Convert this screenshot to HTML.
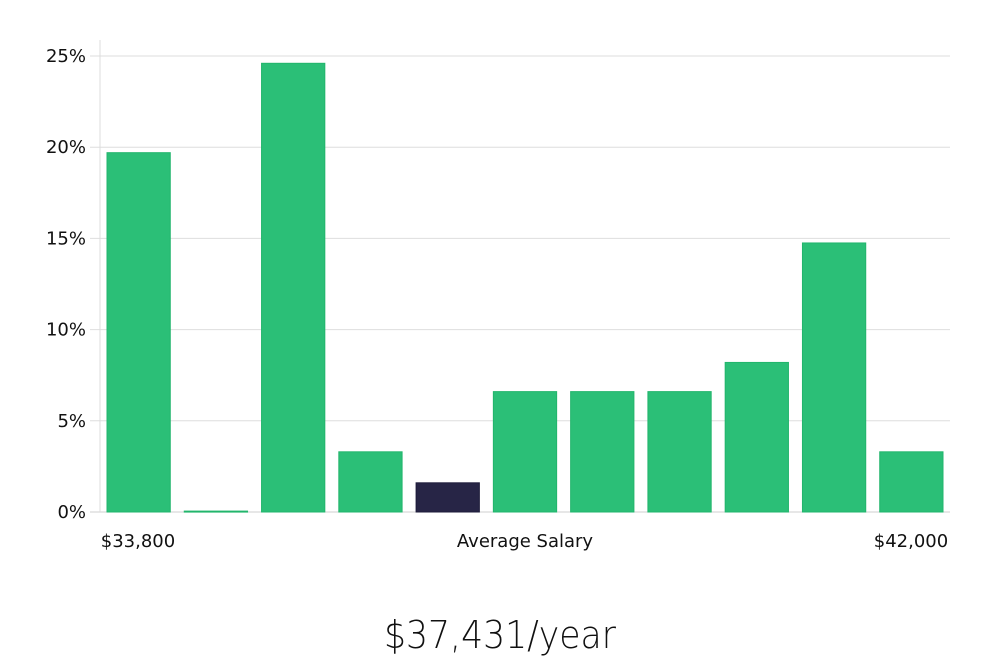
<!DOCTYPE html>
<html><head><meta charset="utf-8">
<style>
html,body{margin:0;padding:0;background:#fff;width:1000px;height:660px;overflow:hidden}
svg text{font-family:"DejaVu Sans","Liberation Sans",sans-serif;fill:#111}
</style></head>
<body>
<svg id="chart" width="1000" height="660" xmlns="http://www.w3.org/2000/svg">
<g id="grid"></g>
<g id="yticks"></g>
<g id="bars"></g>
<text x="138" y="547" font-size="18" text-anchor="middle">$33,800</text>
<text x="525" y="547" font-size="18" text-anchor="middle">Average Salary</text>
<text x="911" y="547" font-size="18" text-anchor="middle">$42,000</text>
<text x="500" y="648" font-size="38" text-anchor="middle" style="font-family:'DejaVu Sans','Liberation Sans',sans-serif;font-weight:300;fill:#111" textLength="232" lengthAdjust="spacingAndGlyphs">$37,431/year</text>
</svg>
<script>
const values = [19.7, 0.05, 24.6, 3.3, 1.6, 6.6, 6.6, 6.6, 8.2, 14.75, 3.3];
const highlightIndex = [4];
const yTicks = [0, 5, 10, 15, 20, 25];
const yTickLabels = ["0%", "5%", "10%", "15%", "20%", "25%"];

const NS = "http://www.w3.org/2000/svg";
const x0 = 100, x1 = 950, yBase = 512, yTop = 56, yMax = 25;
const y = v => yBase - (v / yMax) * (yBase - yTop);
const band = (x1 - x0) / values.length;
const xb = i => x0 + i * band + 7;
const bw = band - 14;

const grid = document.getElementById('grid');
const yt = document.getElementById('yticks');
yTicks.forEach((t, i) => {
  const l = document.createElementNS(NS, 'line');
  
  
  l.setAttribute('x1', 90); l.setAttribute('x2', x1);
  l.setAttribute('y1', y(t)); l.setAttribute('y2', y(t));
  l.setAttribute('stroke', t === 0 ? '#cfcfcf' : '#dedede');
  l.setAttribute('stroke-width', 1);
  grid.appendChild(l);
  const tx = document.createElementNS(NS, 'text');
  
  
  tx.setAttribute('x', 86); tx.setAttribute('y', y(t) + 6);
  tx.setAttribute('text-anchor', 'end'); tx.setAttribute('font-size', '18');
  tx.textContent = yTickLabels[i];
  yt.appendChild(tx);
});
const ax = document.createElementNS(NS, 'line');


ax.setAttribute('x1', x0); ax.setAttribute('x2', x0);
ax.setAttribute('y1', 40); ax.setAttribute('y2', yBase);
ax.setAttribute('stroke', '#dcdcdc');
yt.appendChild(ax);

const bars = document.getElementById('bars');
values.forEach((v, i) => {
  const r = document.createElementNS(NS, 'rect');
  
  
  const top = y(v);
  r.setAttribute('x', xb(i)); r.setAttribute('width', bw);
  r.setAttribute('y', top); r.setAttribute('height', Math.max(1, yBase - top));
  const hi = highlightIndex.includes(i);
  r.setAttribute('fill', hi ? '#272546' : '#2bbf77');
  r.setAttribute('stroke', hi ? '#1d1b3a' : '#22b56c');
  r.setAttribute('stroke-width', 1);
  bars.appendChild(r);
});
</script>
</body></html>
